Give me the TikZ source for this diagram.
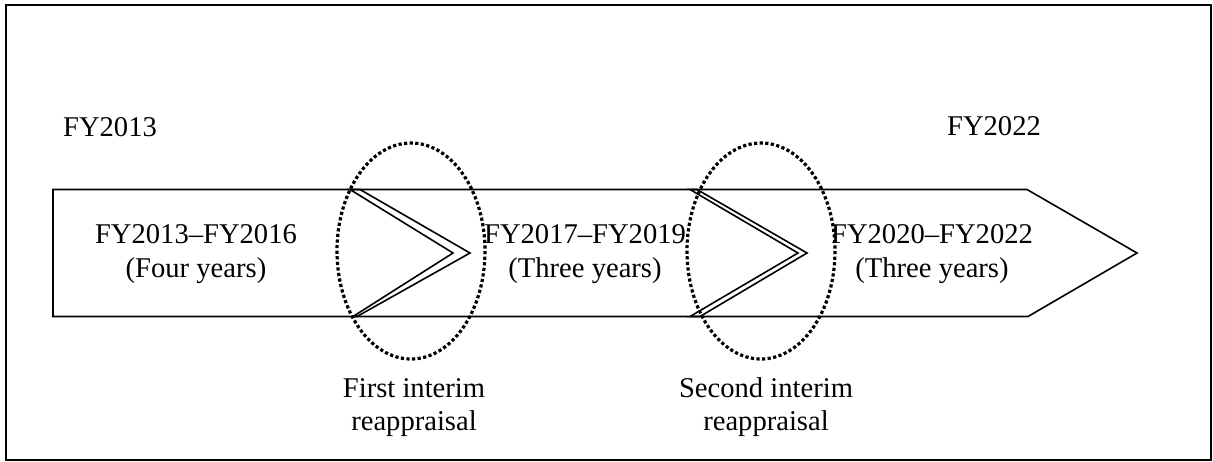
\documentclass[tikz,border=0pt]{standalone}
\usepackage{fontspec}
\setmainfont{Liberation Serif}
\begin{document}
\begin{tikzpicture}[x=0.5pt,y=-0.5pt,
  lbl/.style={font=\fontsize{14.3}{17}\selectfont, inner sep=0pt, align=center, anchor=base},
  blbl/.style={font=\fontsize{14.3}{16.5}\selectfont, inner sep=0pt, align=center, anchor=base},
  arrowbox/.style={draw, line width=0.8pt, line join=miter},
  dotring/.style={draw, line width=1.6pt, dash pattern=on 1.6pt off 1.2pt}]
\useasboundingbox (0,0) rectangle (1213,461);
\draw[line width=1.2pt] (6,5) rectangle (1211,460);
% phase shapes
\draw[arrowbox] (53,189.5) -- (360,189.5) -- (470,253) -- (357,316.5) -- (53,316.5) -- cycle;
\draw[arrowbox] (350,189.5) -- (697,189.5) -- (807,253) -- (700,316.5) -- (353,316.5) -- (453,253) -- cycle;
\draw[arrowbox] (690,189.5) -- (1027,189.5) -- (1137,253) -- (1028,316.5) -- (690,316.5) -- (798,253) -- cycle;
% reappraisal rings
\draw[dotring] (411,251) ellipse [x radius=74, y radius=108];
\draw[dotring] (761,251) ellipse [x radius=74, y radius=108];
% labels
\node[lbl] (start) at (110,136) {FY2013};
\node[lbl] (end) at (994,135) {FY2022};
\node[lbl] (p1) at (196,277) {FY2013–FY2016\\(Four years)};
\node[lbl] (p2) at (585,277) {FY2017–FY2019\\(Three years)};
\node[lbl] (p3) at (932,277) {FY2020–FY2022\\(Three years)};
\node[blbl] (r1) at (414,430) {First interim\\reappraisal};
\node[blbl] (r2) at (766,430) {Second interim\\reappraisal};
\end{tikzpicture}
\end{document}
